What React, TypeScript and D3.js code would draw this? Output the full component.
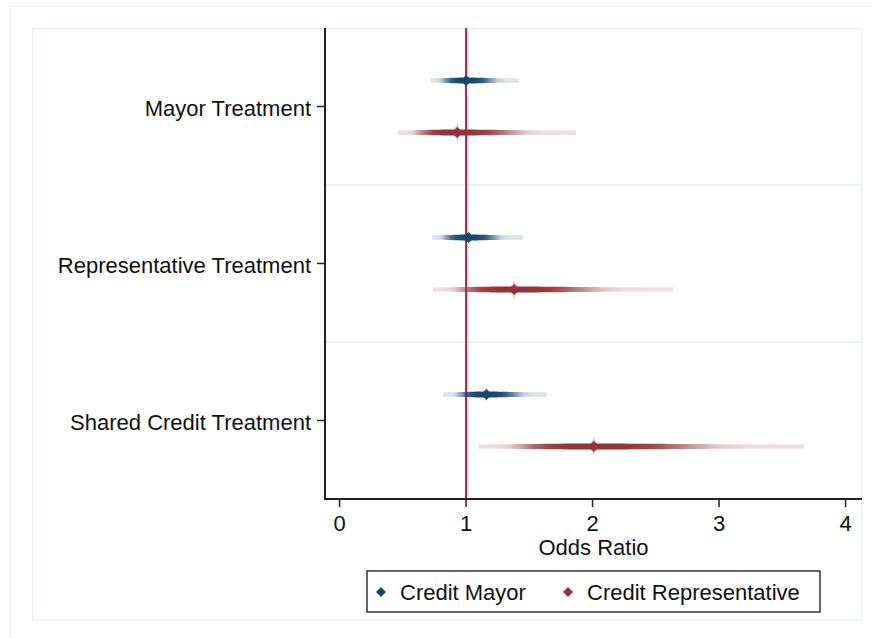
import React from "react";
import * as d3 from "d3";

const categories = ["Mayor Treatment", "Representative Treatment", "Shared Credit Treatment"];
const seriesNames = ["Credit Mayor", "Credit Representative"];
const seriesColors = ["#1a476f", "#90353b"];
const mayorEst = [1.0, 1.02, 1.16];
const mayorLo = [0.72, 0.73, 0.82];
const mayorHi = [1.42, 1.45, 1.64];
const repEst = [0.93, 1.38, 2.01];
const repLo = [0.46, 0.74, 1.1];
const repHi = [1.87, 2.64, 3.67];
const xTicks = [0, 1, 2, 3, 4];
const refValue = 1;

const W = 872;
const H = 638;
const plot = { left: 325, right: 862, top: 28, bottom: 499 };
const FONT = "'Liberation Sans', Arial, Helvetica, sans-serif";
const FS = 22;

function starPath(R: number) {
  return `M0,${-R} Q0,0 ${R},0 Q0,0 0,${R} Q0,0 ${-R},0 Q0,0 0,${-R}Z`;
}
function diamond(r: number) {
  return `M0,${-r} L${r},0 L0,${r} L${-r},0Z`;
}

export default function App() {
  const x = d3.scaleLinear().domain([-0.115, 4.13]).range([plot.left, plot.right]);
  const y = d3.scaleBand().domain(categories).range([plot.top, plot.bottom]).padding(0);
  const bw = y.bandwidth();
  const offsets = [-26, 26];

  const series = [
    { name: seriesNames[0], color: seriesColors[0], est: mayorEst, lo: mayorLo, hi: mayorHi, star: 9 },
    { name: seriesNames[1], color: seriesColors[1], est: repEst, lo: repLo, hi: repHi, star: 13 },
  ];

  const items: any[] = [];
  series.forEach((s, si) => {
    categories.forEach((c, ci) => {
      const est = s.est[ci], lo = s.lo[ci], hi = s.hi[ci];
      const se = (Math.log(hi) - Math.log(lo)) / (2 * 1.96);
      const x0 = x(lo), x1 = x(hi), xe = x(est);
      const cy = (y(c) as number) + bw / 2 + offsets[si];
      const n = 60;
      const stops: any[] = [];
      const top: [number, number][] = [];
      const bot: [number, number][] = [];
      for (let k = 0; k <= n; k++) {
        const t = k / n;
        const px = x0 + t * (x1 - x0);
        const v = x.invert(px);
        const z = (Math.log(Math.max(v, 1e-6)) - Math.log(est)) / se;
        const op = 0.15 + 0.85 * Math.exp(-Math.pow(Math.abs(z) / 1.1, 4));
        stops.push({ off: t, op });
        const hw = 2.2 + 0.8 * Math.exp(-z * z * 1.0);
        top.push([px, cy - hw]);
        bot.push([px, cy + hw]);
      }
      const pts = top.concat(bot.reverse());
      const d = "M" + pts.map((p) => p[0].toFixed(2) + "," + p[1].toFixed(2)).join("L") + "Z";
      items.push({ id: `g${si}_${ci}`, color: s.color, stops, d, x0, x1, xe, cy, star: s.star });
    });
  });

  return (
    <svg width={W} height={H} style={{ position: "absolute", left: 0, top: 0, background: "#fff" }} fontFamily={FONT}>
      <defs>
        {items.map((it) => (
          <linearGradient key={it.id} id={it.id} gradientUnits="userSpaceOnUse" x1={it.x0} x2={it.x1} y1={0} y2={0}>
            {it.stops.map((s: any, i: number) => (
              <stop key={i} offset={s.off} stopColor={it.color} stopOpacity={s.op} />
            ))}
          </linearGradient>
        ))}
      </defs>
      <rect x={0} y={0} width={W} height={H} fill="#fff" />
      <rect x={10.5} y={6.5} width={W + 20} height={H + 20} fill="none" stroke="#e8f0f2" strokeWidth={1.2} />
      <rect x={32.5} y={28.5} width={862 - 32.5} height={620 - 28.5} fill="none" stroke="#e8f0f2" strokeWidth={1.2} />

      {categories.slice(1).map((c) => (
        <line key={c} x1={plot.left} x2={plot.right} y1={y(c)} y2={y(c)} stroke="#e6eef1" strokeWidth={1.6} />
      ))}

      <line x1={x(refValue)} x2={x(refValue)} y1={plot.top} y2={plot.bottom} stroke="#cc1740" strokeWidth={2} />

      {items.map((it) => (
        <g key={it.id}>
          <path d={it.d} fill={`url(#${it.id})`} />
          <g transform={`translate(${it.xe},${it.cy})`}>
            <path d={starPath(it.star)} fill={it.color} fillOpacity={0.22} />
            <path d={starPath(it.star * 0.6)} fill={it.color} fillOpacity={0.35} />
            <path d={diamond(5.5)} fill={it.color} />
          </g>
        </g>
      ))}

      <line x1={plot.left} x2={plot.left} y1={plot.top} y2={plot.bottom + 1} stroke="#222" strokeWidth={2} />
      <line x1={plot.left} x2={plot.right} y1={plot.bottom} y2={plot.bottom} stroke="#222" strokeWidth={2} />

      {categories.map((c) => {
        const cy = (y(c) as number) + bw / 2;
        return (
          <g key={c}>
            <line x1={plot.left - 8} x2={plot.left} y1={cy} y2={cy} stroke="#222" strokeWidth={1.5} />
            <text x={plot.left - 14} y={cy + 2} textAnchor="end" dominantBaseline="central" fontSize={FS} fill="#111">
              {c}
            </text>
          </g>
        );
      })}

      {xTicks.map((t) => (
        <g key={t}>
          <line x1={x(t)} x2={x(t)} y1={plot.bottom} y2={plot.bottom + 8} stroke="#222" strokeWidth={1.5} />
          <text x={x(t)} y={523} textAnchor="middle" dominantBaseline="central" fontSize={FS} fill="#111">
            {t}
          </text>
        </g>
      ))}
      <text x={(plot.left + plot.right) / 2} y={547} textAnchor="middle" dominantBaseline="central" fontSize={FS} fill="#111">
        Odds Ratio
      </text>

      <rect x={367} y={571} width={453} height={41} fill="#fff" stroke="#333" strokeWidth={1.5} />
      {series.map((s, i) => {
        const lx = i === 0 ? 381 : 568;
        return (
          <g key={s.name}>
            <path d={diamond(5)} transform={`translate(${lx},592)`} fill={s.color} />
            <text x={lx + 19} y={592} dominantBaseline="central" fontSize={FS} fill="#111">
              {s.name}
            </text>
          </g>
        );
      })}
    </svg>
  );
}
